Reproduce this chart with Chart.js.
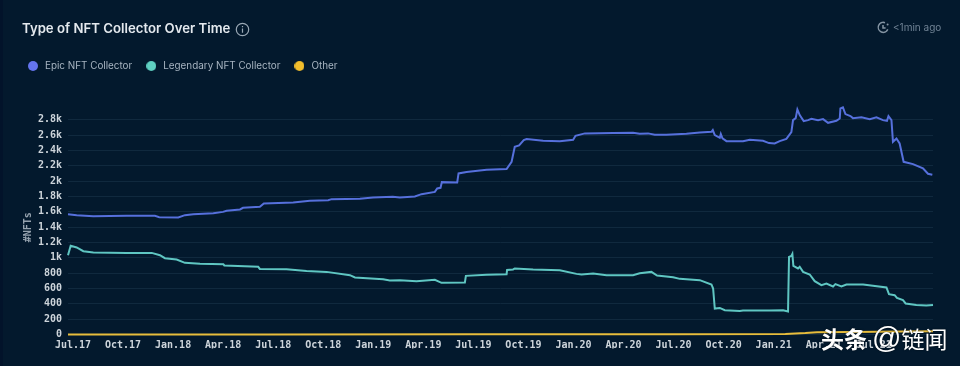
<!DOCTYPE html>
<html>
<head>
<meta charset="utf-8">
<title>Type of NFT Collector Over Time</title>
<script src="https://cdn.jsdelivr.net/npm/chart.js@4"></script>
<style>
    html, body { margin: 0; padding: 0; background: #03192d; }
    #wrap { position: relative; width: 960px; height: 366px; overflow: hidden; background: #03192d; }
    #wrap::after { content: ""; position: absolute; left: 0; top: 0; width: 3px; height: 366px; background: #02132a; }
    #chart-nft { position: absolute; left: 0; top: 0; }
    .head { position: absolute; font-family: Inter, sans-serif; white-space: nowrap; }
    #judul { left: 22px; top: 19px; font-size: 13.2px; font-weight: 600; color: #e4e9ee; line-height: 18px; }
    #info { left: 235px; top: 22px; }
    #jam { left: 877px; top: 21px; }
    #waktu { left: 893px; top: 20px; font-size: 10px; color: #708294; line-height: 14px; }
    #watermark { position: absolute; left: 821px; top: 321px; font-family: "Noto Sans CJK SC", sans-serif; color: #fff; font-size: 23px; line-height: 34px; white-space: nowrap; text-shadow: 0 0 2px rgba(0,0,0,.6); }
    #watermark b { font-weight: 700; margin-right: 5px; }
    #watermark i { font-style: normal; font-size: 29px; font-family: "Liberation Sans", sans-serif; line-height: 20px; }
</style>
</head>
<body>
<div id="wrap">
    <canvas id="chart-nft" width="960" height="366"></canvas>
    <div class="head" id="judul">Type of NFT Collector Over Time</div>
    <svg class="head" id="info" width="15" height="15" viewBox="0 0 15 15" fill="none" stroke="#9aa8b5" stroke-width="1.2">
        <circle cx="7.5" cy="7.5" r="6.2"></circle>
        <path d="M7.5 6.6v4.2M7.5 4v1.2"></path>
    </svg>
    <svg class="head" id="jam" width="13" height="13" viewBox="0 0 13 13" fill="none" stroke="#8494a3" stroke-width="1.5">
        <path d="M10.8 8.4A5 5 0 1 1 8 1.7"></path>
        <path d="M6 4v3h2.6"></path>
        <circle cx="10.6" cy="3.4" r="1" fill="#8494a3" stroke="none"></circle>
    </svg>
    <div class="head" id="waktu">&lt;1min ago</div>
    <div id="watermark"><b>头条</b><i>@</i>链闻</div>
</div>

<script>
// tick labels, one for every 3 months from Jul.17
const labelsKuartal = [
    "Jul.17", "Oct.17", "Jan.18", "Apr.18", "Jul.18", "Oct.18", "Jan.19", "Apr.19", "Jul.19",
    "Oct.19", "Jan.20", "Apr.20", "Jul.20", "Oct.20", "Jan.21", "Apr.21", "Jul.21",
];

// x values are months since Jul.17
const epicMonths = [
    0, 0.52, 1.52, 3.52, 5.21, 5.47, 6.61, 7.01, 7.51, 8.71, 9.29, 9.51, 10.31, 10.49, 11.5, 11.74,
    13.5, 14.5, 15.6, 15.8, 17.5, 18.28, 19.47, 19.89, 20.79, 21.19, 21.99, 22.13, 22.33, 22.41,
    23.33, 23.41, 23.89, 25.09, 26.29, 26.59, 26.78, 27.04, 27.32, 27.49, 28.48, 29.48, 30.28,
    30.42, 30.98, 32.67, 33.87, 34.27, 34.77, 35.17, 35.87, 37.07, 37.87, 38.57, 38.65, 38.77,
    39.07, 39.13, 39.23, 39.47, 40.46, 40.87, 41.66, 42.02, 42.36, 42.66, 43.06, 43.36, 43.46,
    43.62, 43.72, 43.86, 44.1, 44.36, 44.56, 44.96, 45.26, 45.56, 46.06, 46.26, 46.3, 46.45, 46.6,
    46.9, 47.05, 47.56, 48.06, 48.46, 48.85, 49.09, 49.18, 49.36, 49.45, 49.66, 49.85, 50.09,
    50.65, 51.25, 51.55, 51.81,
];
const epicValues = [
    1570, 1557, 1544, 1548, 1548, 1531, 1527, 1557, 1570, 1583, 1600, 1614, 1632, 1653, 1666, 1710,
    1723, 1744, 1753, 1766, 1770, 1788, 1796, 1788, 1801, 1831, 1861, 1906, 1914, 1988,
    1984, 2102, 2119, 2149, 2158, 2253, 2449, 2467, 2536, 2550, 2527, 2520, 2540,
    2593, 2624, 2628, 2632, 2619, 2624, 2606, 2606, 2619, 2637, 2645, 2667, 2602,
    2567, 2615, 2558, 2523, 2523, 2540, 2527, 2497, 2493, 2523, 2553, 2641, 2797,
    2823, 2937, 2863, 2784, 2797, 2814, 2797, 2810, 2762, 2788, 2819, 2950, 2963, 2876,
    2850, 2823, 2833, 2810, 2833, 2797, 2788, 2850, 2797, 2514, 2558, 2493, 2253,
    2223, 2167, 2097, 2084,
];

const legendaryMonths = [
    0, 0.16, 0.52, 0.92, 1.52, 3.52, 5.02, 5.51, 5.81, 6.51, 7.01, 7.91, 9.31, 9.37, 11.4, 11.5,
    13.1, 14.3, 15.5, 16.9, 17.2, 18.89, 19.29, 19.89, 20.89, 21.99, 22.39, 23.79, 23.85, 25.09,
    26.29, 26.32, 26.68, 26.78, 27.88, 29.48, 30.48, 30.78, 31.48, 32.28, 33.87, 34.27, 34.97,
    35.31, 36.27, 36.67, 37.87, 38.57, 38.67, 38.77, 39.07, 39.37, 40.27, 40.46, 42.06, 42.86,
    43.16, 43.22, 43.36, 43.42, 43.48, 43.76, 43.86, 44.06, 44.46, 44.76, 45.16, 45.46, 45.86,
    46, 46.36, 46.66, 47.66, 48.25, 49.06, 49.21, 49.55, 49.69, 50.05, 50.21, 50.85, 51.45, 51.85,
];
const legendaryValues = [
    1035, 1157, 1136, 1087, 1070, 1065, 1065, 1035, 996, 979, 935, 922, 918, 901, 883, 856,
    852, 830, 817, 774, 744, 722, 705, 709, 696, 713, 674, 679, 765, 778,
    787, 843, 849, 862, 849, 839, 791, 783, 796, 774, 774, 800, 817,
    770, 748, 726, 709, 653, 600, 339, 347, 317, 308, 313, 313, 317,
    300, 1013, 1026, 1052, 895, 862, 883, 817, 783, 696, 644, 665, 627,
    657, 627, 653, 653, 635, 614, 526, 513, 478, 448, 405, 386, 379, 386,
];

const otherMonths = [0, 12, 24, 36, 43, 44.2, 44.9, 47, 50, 51.85];
const otherValues = [0, 1, 2, 3, 6, 18, 30, 33, 38, 42];

const yTicks = [0, 200, 400, 600, 800, 1000, 1200, 1400, 1600, 1800, 2000, 2200, 2400, 2600, 2800];

function gabung(months, values) {
    return months.map((m, i) => ({ x: m, y: values[i] }));
}

// round legend dot, drawn on its own canvas so the text gap stays wider than the dot
function buatDot(warna) {
    const dot = document.createElement("canvas");
    dot.width = 10;
    dot.height = 10;
    const c = dot.getContext("2d");
    c.fillStyle = warna;
    c.arc(5, 5, 5, 0, Math.PI * 2);
    c.fill();
    return dot;
}

const dataNft = {
    datasets: [
        {
            label: "Epic NFT Collector",
            data: gabung(epicMonths, epicValues),
            borderColor: "#5670dc",
            backgroundColor: "#6474ee",
            borderWidth: 2,
            pointRadius: 0,
            pointStyle: buatDot("#6474ee"),
            clip: false,
        },
        {
            label: "Legendary NFT Collector",
            data: gabung(legendaryMonths, legendaryValues),
            borderColor: "#5fc6c2",
            backgroundColor: "#5fd0c2",
            borderWidth: 2,
            pointRadius: 0,
            pointStyle: buatDot("#5fd0c2"),
            clip: false,
        },
        {
            label: "Other",
            data: gabung(otherMonths, otherValues),
            borderColor: "#e8bd3c",
            backgroundColor: "#f2bd2c",
            borderWidth: 2,
            pointRadius: 0,
            pointStyle: buatDot("#f2bd2c"),
            clip: false,
        },
    ],
};

// extra room below the legend
const legendGap = {
    id: "legendGap",
    beforeInit(chart) {
        const fitAsli = chart.legend.fit;
        chart.legend.fit = function () {
            fitAsli.call(this);
            this.height += 39;
        };
    },
};

const monoFont = { family: "'DejaVu Sans Mono', monospace", size: 10, weight: "bold" };

const configNft = {
    type: "line",
    data: dataNft,
    plugins: [legendGap],
    options: {
        responsive: false,
        animation: false,
        layout: {
            padding: { left: 14, right: 27, top: 49, bottom: 17.5 },
        },
        plugins: {
            tooltip: { enabled: false },
            legend: {
                position: "top",
                align: "start",
                labels: {
                    usePointStyle: true,
                    pointStyleWidth: 14,
                    boxWidth: 14,
                    boxHeight: 7,
                    padding: 12,
                    color: "#a7b4c1",
                    font: { family: "Inter, sans-serif", size: 9.9 },
                },
            },
        },
        scales: {
            x: {
                type: "linear",
                min: 0,
                max: 51.85,
                border: { display: false },
                grid: { display: false },
                ticks: {
                    stepSize: 3,
                    maxRotation: 0,
                    autoSkip: false,
                    padding: -3,
                    labelOffset: 5,
                    color: "#cdd4da",
                    font: monoFont,
                    callback: function (value) {
                        return labelsKuartal[value / 3];
                    },
                },
            },
            y: {
                min: 0,
                max: 2800,
                afterFit: function (scale) {
                    scale.width = 54;
                },
                border: { display: false },
                grid: { color: "#10293e", drawTicks: false },
                title: {
                    display: true,
                    text: "#NFTs",
                    color: "#95a2ae",
                    font: { family: "'DejaVu Sans Mono', monospace", size: 10, weight: "bold" },
                    padding: { top: 8, bottom: 0 },
                },
                ticks: {
                    stepSize: 200,
                    padding: 6,
                    color: "#cdd4da",
                    font: monoFont,
                    callback: function (value) {
                        if (!yTicks.includes(value)) return "";
                        return value >= 1000 ? `${value / 1000}k` : `${value}`;
                    },
                },
            },
        },
    },
};

// render init block
const ctx = document.getElementById("chart-nft");
new Chart(ctx, configNft);
</script>
</body>
</html>
